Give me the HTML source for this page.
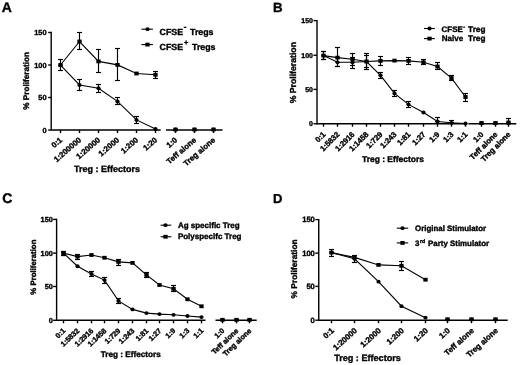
<!DOCTYPE html>
<html><head><meta charset="utf-8"><style>
html,body{margin:0;padding:0;background:#fff;}
svg{display:block;will-change:transform;}
text{font-family:"Liberation Sans", sans-serif;fill:#000;stroke:#000;stroke-width:0.36px;text-rendering:geometricPrecision;}
</style></head><body>
<svg width="520" height="365" viewBox="0 0 520 365">
<rect width="520" height="365" fill="#fff"/>
<line x1="51.20" y1="31.80" x2="51.20" y2="130.70" stroke="#000" stroke-width="1.4"/>
<line x1="48.20" y1="32.50" x2="51.20" y2="32.50" stroke="#000" stroke-width="1.4"/>
<text x="46.50" y="35.16" font-size="7.4" text-anchor="end" font-weight="bold">150</text>
<line x1="48.20" y1="65.00" x2="51.20" y2="65.00" stroke="#000" stroke-width="1.4"/>
<text x="46.50" y="67.66" font-size="7.4" text-anchor="end" font-weight="bold">100</text>
<line x1="48.20" y1="97.50" x2="51.20" y2="97.50" stroke="#000" stroke-width="1.4"/>
<text x="46.50" y="100.16" font-size="7.4" text-anchor="end" font-weight="bold">50</text>
<line x1="48.20" y1="130.00" x2="51.20" y2="130.00" stroke="#000" stroke-width="1.4"/>
<text x="46.50" y="132.66" font-size="7.4" text-anchor="end" font-weight="bold">0</text>
<line x1="51.20" y1="130.00" x2="160.70" y2="130.00" stroke="#000" stroke-width="1.4"/>
<line x1="60.50" y1="130.00" x2="60.50" y2="133.00" stroke="#000" stroke-width="1.4"/>
<text x="62.70" y="140.80" font-size="7.8" text-anchor="end" font-weight="bold" transform="rotate(-41 62.7 140.8)">0:1</text>
<line x1="79.50" y1="130.00" x2="79.50" y2="133.00" stroke="#000" stroke-width="1.4"/>
<text x="81.70" y="140.80" font-size="7.8" text-anchor="end" font-weight="bold" transform="rotate(-41 81.7 140.8)">1:200000</text>
<line x1="98.50" y1="130.00" x2="98.50" y2="133.00" stroke="#000" stroke-width="1.4"/>
<text x="100.70" y="140.80" font-size="7.8" text-anchor="end" font-weight="bold" transform="rotate(-41 100.7 140.8)">1:20000</text>
<line x1="117.50" y1="130.00" x2="117.50" y2="133.00" stroke="#000" stroke-width="1.4"/>
<text x="119.70" y="140.80" font-size="7.8" text-anchor="end" font-weight="bold" transform="rotate(-41 119.7 140.8)">1:2000</text>
<line x1="136.50" y1="130.00" x2="136.50" y2="133.00" stroke="#000" stroke-width="1.4"/>
<text x="138.70" y="140.80" font-size="7.8" text-anchor="end" font-weight="bold" transform="rotate(-41 138.7 140.8)">1:200</text>
<line x1="155.50" y1="130.00" x2="155.50" y2="133.00" stroke="#000" stroke-width="1.4"/>
<text x="157.70" y="140.80" font-size="7.8" text-anchor="end" font-weight="bold" transform="rotate(-41 157.7 140.8)">1:20</text>
<line x1="166.00" y1="130.00" x2="222.50" y2="130.00" stroke="#000" stroke-width="1.4"/>
<line x1="175.50" y1="130.00" x2="175.50" y2="133.00" stroke="#000" stroke-width="1.4"/>
<text x="177.70" y="140.80" font-size="7.8" text-anchor="end" font-weight="bold" transform="rotate(-41 177.7 140.8)">1:0</text>
<line x1="194.50" y1="130.00" x2="194.50" y2="133.00" stroke="#000" stroke-width="1.4"/>
<text x="196.70" y="140.80" font-size="7.8" text-anchor="end" font-weight="bold" transform="rotate(-41 196.7 140.8)">Teff alone</text>
<line x1="213.50" y1="130.00" x2="213.50" y2="133.00" stroke="#000" stroke-width="1.4"/>
<text x="215.70" y="140.80" font-size="7.8" text-anchor="end" font-weight="bold" transform="rotate(-41 215.7 140.8)">Treg alone</text>
<text x="29.00" y="80.90" font-size="8.2" text-anchor="middle" font-weight="bold" transform="rotate(-90 29.0 80.9)">% Proliferation</text>
<text x="106.90" y="172.00" font-size="9.0" text-anchor="middle" font-weight="bold">Treg : Effectors</text>
<text x="1.80" y="12.00" font-size="14" text-anchor="start" font-weight="bold">A</text>
<polyline points="60.50,65.20 79.50,85.00 98.50,88.20 117.50,101.40 136.50,119.90 155.50,129.00" fill="none" stroke="#000" stroke-width="1.1"/>
<line x1="60.50" y1="59.50" x2="60.50" y2="70.50" stroke="#000" stroke-width="1.15"/>
<line x1="58.00" y1="59.50" x2="63.00" y2="59.50" stroke="#000" stroke-width="1.15"/>
<line x1="58.00" y1="70.50" x2="63.00" y2="70.50" stroke="#000" stroke-width="1.15"/>
<line x1="79.50" y1="79.50" x2="79.50" y2="90.50" stroke="#000" stroke-width="1.15"/>
<line x1="77.00" y1="79.50" x2="82.00" y2="79.50" stroke="#000" stroke-width="1.15"/>
<line x1="77.00" y1="90.50" x2="82.00" y2="90.50" stroke="#000" stroke-width="1.15"/>
<line x1="98.50" y1="84.50" x2="98.50" y2="92.50" stroke="#000" stroke-width="1.15"/>
<line x1="96.00" y1="84.50" x2="101.00" y2="84.50" stroke="#000" stroke-width="1.15"/>
<line x1="96.00" y1="92.50" x2="101.00" y2="92.50" stroke="#000" stroke-width="1.15"/>
<line x1="117.50" y1="97.50" x2="117.50" y2="104.50" stroke="#000" stroke-width="1.15"/>
<line x1="115.00" y1="97.50" x2="120.00" y2="97.50" stroke="#000" stroke-width="1.15"/>
<line x1="115.00" y1="104.50" x2="120.00" y2="104.50" stroke="#000" stroke-width="1.15"/>
<line x1="136.50" y1="116.50" x2="136.50" y2="123.50" stroke="#000" stroke-width="1.15"/>
<line x1="134.00" y1="116.50" x2="139.00" y2="116.50" stroke="#000" stroke-width="1.15"/>
<line x1="134.00" y1="123.50" x2="139.00" y2="123.50" stroke="#000" stroke-width="1.15"/>
<ellipse cx="60.50" cy="65.20" rx="2.10" ry="1.90" fill="#000"/>
<ellipse cx="79.50" cy="85.00" rx="2.10" ry="1.90" fill="#000"/>
<ellipse cx="98.50" cy="88.20" rx="2.10" ry="1.90" fill="#000"/>
<ellipse cx="117.50" cy="101.40" rx="2.10" ry="1.90" fill="#000"/>
<ellipse cx="136.50" cy="119.90" rx="2.10" ry="1.90" fill="#000"/>
<ellipse cx="155.50" cy="129.00" rx="2.10" ry="1.90" fill="#000"/>
<ellipse cx="175.50" cy="129.50" rx="2.10" ry="1.90" fill="#000"/>
<ellipse cx="194.50" cy="129.50" rx="2.10" ry="1.90" fill="#000"/>
<ellipse cx="213.50" cy="129.50" rx="2.10" ry="1.90" fill="#000"/>
<polyline points="60.50,65.00 79.50,41.50 98.50,61.40 117.50,64.90 136.50,73.50 155.50,74.80" fill="none" stroke="#000" stroke-width="1.1"/>
<line x1="79.50" y1="32.50" x2="79.50" y2="49.50" stroke="#000" stroke-width="1.15"/>
<line x1="77.00" y1="32.50" x2="82.00" y2="32.50" stroke="#000" stroke-width="1.15"/>
<line x1="77.00" y1="49.50" x2="82.00" y2="49.50" stroke="#000" stroke-width="1.15"/>
<line x1="98.50" y1="49.50" x2="98.50" y2="72.50" stroke="#000" stroke-width="1.15"/>
<line x1="96.00" y1="49.50" x2="101.00" y2="49.50" stroke="#000" stroke-width="1.15"/>
<line x1="96.00" y1="72.50" x2="101.00" y2="72.50" stroke="#000" stroke-width="1.15"/>
<line x1="117.50" y1="48.50" x2="117.50" y2="80.50" stroke="#000" stroke-width="1.15"/>
<line x1="115.00" y1="48.50" x2="120.00" y2="48.50" stroke="#000" stroke-width="1.15"/>
<line x1="115.00" y1="80.50" x2="120.00" y2="80.50" stroke="#000" stroke-width="1.15"/>
<line x1="155.50" y1="71.50" x2="155.50" y2="78.50" stroke="#000" stroke-width="1.15"/>
<line x1="153.00" y1="71.50" x2="158.00" y2="71.50" stroke="#000" stroke-width="1.15"/>
<line x1="153.00" y1="78.50" x2="158.00" y2="78.50" stroke="#000" stroke-width="1.15"/>
<rect x="58.34" y="63.10" width="4.32" height="3.80" fill="#000"/>
<rect x="77.34" y="39.60" width="4.32" height="3.80" fill="#000"/>
<rect x="96.34" y="59.50" width="4.32" height="3.80" fill="#000"/>
<rect x="115.34" y="63.00" width="4.32" height="3.80" fill="#000"/>
<rect x="134.34" y="71.60" width="4.32" height="3.80" fill="#000"/>
<rect x="153.34" y="72.90" width="4.32" height="3.80" fill="#000"/>
<rect x="173.34" y="127.60" width="4.32" height="3.80" fill="#000"/>
<rect x="192.34" y="127.60" width="4.32" height="3.80" fill="#000"/>
<rect x="211.34" y="127.60" width="4.32" height="3.80" fill="#000"/>
<line x1="141.40" y1="29.20" x2="152.90" y2="29.20" stroke="#000" stroke-width="1.1"/>
<ellipse cx="147.50" cy="29.20" rx="2.10" ry="1.90" fill="#000"/>
<text x="159.6" y="35.0" font-size="8.8" font-weight="bold">CFSE</text>
<text x="190.0" y="35.0" font-size="8.8" font-weight="bold">Tregs</text>
<line x1="141.40" y1="44.60" x2="152.90" y2="44.60" stroke="#000" stroke-width="1.1"/>
<rect x="145.34" y="42.70" width="4.32" height="3.80" fill="#000"/>
<text x="159.6" y="50.2" font-size="8.8" font-weight="bold">CFSE</text>
<text x="183.9" y="44.5" font-size="7.5" font-weight="bold">+</text>
<text x="192.0" y="50.2" font-size="8.8" font-weight="bold">Tregs</text>
<line x1="317.00" y1="19.90" x2="317.00" y2="124.45" stroke="#000" stroke-width="1.4"/>
<line x1="313.50" y1="20.60" x2="317.00" y2="20.60" stroke="#000" stroke-width="1.4"/>
<text x="313.00" y="23.12" font-size="7.0" text-anchor="end" font-weight="bold">150</text>
<line x1="313.50" y1="55.25" x2="317.00" y2="55.25" stroke="#000" stroke-width="1.4"/>
<text x="313.00" y="57.77" font-size="7.0" text-anchor="end" font-weight="bold">100</text>
<line x1="313.50" y1="89.40" x2="317.00" y2="89.40" stroke="#000" stroke-width="1.4"/>
<text x="313.00" y="91.92" font-size="7.0" text-anchor="end" font-weight="bold">50</text>
<line x1="313.50" y1="123.75" x2="317.00" y2="123.75" stroke="#000" stroke-width="1.4"/>
<text x="313.00" y="126.27" font-size="7.0" text-anchor="end" font-weight="bold">0</text>
<line x1="317.00" y1="123.75" x2="467.20" y2="123.75" stroke="#000" stroke-width="1.4"/>
<line x1="323.50" y1="123.75" x2="323.50" y2="126.75" stroke="#000" stroke-width="1.4"/>
<text x="326.10" y="134.95" font-size="7.7" text-anchor="end" font-weight="bold" transform="rotate(-45 326.1 134.95)">0:1</text>
<line x1="337.50" y1="123.75" x2="337.50" y2="126.75" stroke="#000" stroke-width="1.4"/>
<text x="340.10" y="134.95" font-size="7.7" text-anchor="end" font-weight="bold" transform="rotate(-45 340.1 134.95)">1:5832</text>
<line x1="352.50" y1="123.75" x2="352.50" y2="126.75" stroke="#000" stroke-width="1.4"/>
<text x="355.10" y="134.95" font-size="7.7" text-anchor="end" font-weight="bold" transform="rotate(-45 355.1 134.95)">1:2916</text>
<line x1="366.50" y1="123.75" x2="366.50" y2="126.75" stroke="#000" stroke-width="1.4"/>
<text x="369.10" y="134.95" font-size="7.7" text-anchor="end" font-weight="bold" transform="rotate(-45 369.1 134.95)">1:1458</text>
<line x1="380.50" y1="123.75" x2="380.50" y2="126.75" stroke="#000" stroke-width="1.4"/>
<text x="383.10" y="134.95" font-size="7.7" text-anchor="end" font-weight="bold" transform="rotate(-45 383.1 134.95)">1:729</text>
<line x1="394.50" y1="123.75" x2="394.50" y2="126.75" stroke="#000" stroke-width="1.4"/>
<text x="397.10" y="134.95" font-size="7.7" text-anchor="end" font-weight="bold" transform="rotate(-45 397.1 134.95)">1:243</text>
<line x1="408.50" y1="123.75" x2="408.50" y2="126.75" stroke="#000" stroke-width="1.4"/>
<text x="411.10" y="134.95" font-size="7.7" text-anchor="end" font-weight="bold" transform="rotate(-45 411.1 134.95)">1:81</text>
<line x1="423.50" y1="123.75" x2="423.50" y2="126.75" stroke="#000" stroke-width="1.4"/>
<text x="426.10" y="134.95" font-size="7.7" text-anchor="end" font-weight="bold" transform="rotate(-45 426.1 134.95)">1:27</text>
<line x1="437.50" y1="123.75" x2="437.50" y2="126.75" stroke="#000" stroke-width="1.4"/>
<text x="440.10" y="134.95" font-size="7.7" text-anchor="end" font-weight="bold" transform="rotate(-45 440.1 134.95)">1:9</text>
<line x1="451.50" y1="123.75" x2="451.50" y2="126.75" stroke="#000" stroke-width="1.4"/>
<text x="454.10" y="134.95" font-size="7.7" text-anchor="end" font-weight="bold" transform="rotate(-45 454.1 134.95)">1:3</text>
<line x1="465.50" y1="123.75" x2="465.50" y2="126.75" stroke="#000" stroke-width="1.4"/>
<text x="468.10" y="134.95" font-size="7.7" text-anchor="end" font-weight="bold" transform="rotate(-45 468.1 134.95)">1:1</text>
<line x1="468.40" y1="123.75" x2="516.30" y2="123.75" stroke="#000" stroke-width="1.4"/>
<line x1="481.50" y1="123.75" x2="481.50" y2="126.75" stroke="#000" stroke-width="1.4"/>
<text x="484.10" y="134.95" font-size="7.7" text-anchor="end" font-weight="bold" transform="rotate(-45 484.1 134.95)">1:0</text>
<line x1="495.50" y1="123.75" x2="495.50" y2="126.75" stroke="#000" stroke-width="1.4"/>
<text x="498.10" y="134.95" font-size="7.7" text-anchor="end" font-weight="bold" transform="rotate(-45 498.1 134.95)">Teff alone</text>
<line x1="508.50" y1="123.75" x2="508.50" y2="126.75" stroke="#000" stroke-width="1.4"/>
<text x="511.10" y="134.95" font-size="7.7" text-anchor="end" font-weight="bold" transform="rotate(-45 511.1 134.95)">Treg alone</text>
<text x="296.20" y="72.70" font-size="8.7" text-anchor="middle" font-weight="bold" transform="rotate(-90 296.2 72.7)">% Proliferation</text>
<text x="393.00" y="161.60" font-size="8.45" text-anchor="middle" font-weight="bold">Treg : Effectors</text>
<text x="273.00" y="11.60" font-size="13.3" text-anchor="start" font-weight="bold">B</text>
<polyline points="323.50,55.60 337.50,62.30 352.50,62.30 366.50,61.50 380.50,75.30 394.50,93.40 408.50,104.40 423.50,112.50 437.50,121.50 451.50,122.80 465.50,123.50" fill="none" stroke="#000" stroke-width="1.1"/>
<line x1="323.50" y1="51.50" x2="323.50" y2="59.50" stroke="#000" stroke-width="1.15"/>
<line x1="321.00" y1="51.50" x2="326.00" y2="51.50" stroke="#000" stroke-width="1.15"/>
<line x1="321.00" y1="59.50" x2="326.00" y2="59.50" stroke="#000" stroke-width="1.15"/>
<line x1="337.50" y1="57.50" x2="337.50" y2="66.50" stroke="#000" stroke-width="1.15"/>
<line x1="335.00" y1="57.50" x2="340.00" y2="57.50" stroke="#000" stroke-width="1.15"/>
<line x1="335.00" y1="66.50" x2="340.00" y2="66.50" stroke="#000" stroke-width="1.15"/>
<line x1="352.50" y1="57.50" x2="352.50" y2="68.50" stroke="#000" stroke-width="1.15"/>
<line x1="350.00" y1="57.50" x2="355.00" y2="57.50" stroke="#000" stroke-width="1.15"/>
<line x1="350.00" y1="68.50" x2="355.00" y2="68.50" stroke="#000" stroke-width="1.15"/>
<line x1="366.50" y1="55.50" x2="366.50" y2="69.50" stroke="#000" stroke-width="1.15"/>
<line x1="364.00" y1="55.50" x2="369.00" y2="55.50" stroke="#000" stroke-width="1.15"/>
<line x1="364.00" y1="69.50" x2="369.00" y2="69.50" stroke="#000" stroke-width="1.15"/>
<line x1="380.50" y1="72.50" x2="380.50" y2="78.50" stroke="#000" stroke-width="1.15"/>
<line x1="378.00" y1="72.50" x2="383.00" y2="72.50" stroke="#000" stroke-width="1.15"/>
<line x1="378.00" y1="78.50" x2="383.00" y2="78.50" stroke="#000" stroke-width="1.15"/>
<line x1="394.50" y1="90.50" x2="394.50" y2="96.50" stroke="#000" stroke-width="1.15"/>
<line x1="392.00" y1="90.50" x2="397.00" y2="90.50" stroke="#000" stroke-width="1.15"/>
<line x1="392.00" y1="96.50" x2="397.00" y2="96.50" stroke="#000" stroke-width="1.15"/>
<line x1="408.50" y1="101.50" x2="408.50" y2="107.50" stroke="#000" stroke-width="1.15"/>
<line x1="406.00" y1="101.50" x2="411.00" y2="101.50" stroke="#000" stroke-width="1.15"/>
<line x1="406.00" y1="107.50" x2="411.00" y2="107.50" stroke="#000" stroke-width="1.15"/>
<line x1="437.50" y1="117.50" x2="437.50" y2="121.50" stroke="#000" stroke-width="1.15"/>
<line x1="435.00" y1="117.50" x2="440.00" y2="117.50" stroke="#000" stroke-width="1.15"/>
<line x1="435.00" y1="121.50" x2="440.00" y2="121.50" stroke="#000" stroke-width="1.15"/>
<line x1="451.50" y1="120.50" x2="451.50" y2="122.50" stroke="#000" stroke-width="1.15"/>
<line x1="449.00" y1="120.50" x2="454.00" y2="120.50" stroke="#000" stroke-width="1.15"/>
<line x1="449.00" y1="122.50" x2="454.00" y2="122.50" stroke="#000" stroke-width="1.15"/>
<ellipse cx="323.50" cy="55.60" rx="2.10" ry="1.90" fill="#000"/>
<ellipse cx="337.50" cy="62.30" rx="2.10" ry="1.90" fill="#000"/>
<ellipse cx="352.50" cy="62.30" rx="2.10" ry="1.90" fill="#000"/>
<ellipse cx="366.50" cy="61.50" rx="2.10" ry="1.90" fill="#000"/>
<ellipse cx="380.50" cy="75.30" rx="2.10" ry="1.90" fill="#000"/>
<ellipse cx="394.50" cy="93.40" rx="2.10" ry="1.90" fill="#000"/>
<ellipse cx="408.50" cy="104.40" rx="2.10" ry="1.90" fill="#000"/>
<ellipse cx="423.50" cy="112.50" rx="2.10" ry="1.90" fill="#000"/>
<ellipse cx="437.50" cy="121.50" rx="2.10" ry="1.90" fill="#000"/>
<ellipse cx="451.50" cy="122.80" rx="2.10" ry="1.90" fill="#000"/>
<ellipse cx="465.50" cy="123.50" rx="2.10" ry="1.90" fill="#000"/>
<ellipse cx="481.50" cy="123.00" rx="2.10" ry="1.90" fill="#000"/>
<ellipse cx="495.50" cy="123.00" rx="2.10" ry="1.90" fill="#000"/>
<ellipse cx="508.50" cy="123.00" rx="2.10" ry="1.90" fill="#000"/>
<polyline points="323.50,55.60 337.50,57.60 352.50,59.30 366.50,61.50 380.50,60.90 394.50,60.60 408.50,60.90 423.50,62.30 437.50,66.50 451.50,78.10 465.50,97.00" fill="none" stroke="#000" stroke-width="1.1"/>
<line x1="323.50" y1="51.50" x2="323.50" y2="59.50" stroke="#000" stroke-width="1.15"/>
<line x1="321.00" y1="51.50" x2="326.00" y2="51.50" stroke="#000" stroke-width="1.15"/>
<line x1="321.00" y1="59.50" x2="326.00" y2="59.50" stroke="#000" stroke-width="1.15"/>
<line x1="337.50" y1="47.50" x2="337.50" y2="66.50" stroke="#000" stroke-width="1.15"/>
<line x1="335.00" y1="47.50" x2="340.00" y2="47.50" stroke="#000" stroke-width="1.15"/>
<line x1="335.00" y1="66.50" x2="340.00" y2="66.50" stroke="#000" stroke-width="1.15"/>
<line x1="352.50" y1="53.50" x2="352.50" y2="65.50" stroke="#000" stroke-width="1.15"/>
<line x1="350.00" y1="53.50" x2="355.00" y2="53.50" stroke="#000" stroke-width="1.15"/>
<line x1="350.00" y1="65.50" x2="355.00" y2="65.50" stroke="#000" stroke-width="1.15"/>
<line x1="366.50" y1="53.50" x2="366.50" y2="67.50" stroke="#000" stroke-width="1.15"/>
<line x1="364.00" y1="53.50" x2="369.00" y2="53.50" stroke="#000" stroke-width="1.15"/>
<line x1="364.00" y1="67.50" x2="369.00" y2="67.50" stroke="#000" stroke-width="1.15"/>
<line x1="380.50" y1="56.50" x2="380.50" y2="65.50" stroke="#000" stroke-width="1.15"/>
<line x1="378.00" y1="56.50" x2="383.00" y2="56.50" stroke="#000" stroke-width="1.15"/>
<line x1="378.00" y1="65.50" x2="383.00" y2="65.50" stroke="#000" stroke-width="1.15"/>
<line x1="408.50" y1="57.50" x2="408.50" y2="64.50" stroke="#000" stroke-width="1.15"/>
<line x1="406.00" y1="57.50" x2="411.00" y2="57.50" stroke="#000" stroke-width="1.15"/>
<line x1="406.00" y1="64.50" x2="411.00" y2="64.50" stroke="#000" stroke-width="1.15"/>
<line x1="423.50" y1="59.50" x2="423.50" y2="64.50" stroke="#000" stroke-width="1.15"/>
<line x1="421.00" y1="59.50" x2="426.00" y2="59.50" stroke="#000" stroke-width="1.15"/>
<line x1="421.00" y1="64.50" x2="426.00" y2="64.50" stroke="#000" stroke-width="1.15"/>
<line x1="437.50" y1="62.50" x2="437.50" y2="69.50" stroke="#000" stroke-width="1.15"/>
<line x1="435.00" y1="62.50" x2="440.00" y2="62.50" stroke="#000" stroke-width="1.15"/>
<line x1="435.00" y1="69.50" x2="440.00" y2="69.50" stroke="#000" stroke-width="1.15"/>
<line x1="451.50" y1="75.50" x2="451.50" y2="80.50" stroke="#000" stroke-width="1.15"/>
<line x1="449.00" y1="75.50" x2="454.00" y2="75.50" stroke="#000" stroke-width="1.15"/>
<line x1="449.00" y1="80.50" x2="454.00" y2="80.50" stroke="#000" stroke-width="1.15"/>
<line x1="465.50" y1="93.50" x2="465.50" y2="101.50" stroke="#000" stroke-width="1.15"/>
<line x1="463.00" y1="93.50" x2="468.00" y2="93.50" stroke="#000" stroke-width="1.15"/>
<line x1="463.00" y1="101.50" x2="468.00" y2="101.50" stroke="#000" stroke-width="1.15"/>
<rect x="321.34" y="53.70" width="4.32" height="3.80" fill="#000"/>
<rect x="335.34" y="55.70" width="4.32" height="3.80" fill="#000"/>
<rect x="350.34" y="57.40" width="4.32" height="3.80" fill="#000"/>
<rect x="364.34" y="59.60" width="4.32" height="3.80" fill="#000"/>
<rect x="378.34" y="59.00" width="4.32" height="3.80" fill="#000"/>
<rect x="392.34" y="58.70" width="4.32" height="3.80" fill="#000"/>
<rect x="406.34" y="59.00" width="4.32" height="3.80" fill="#000"/>
<rect x="421.34" y="60.40" width="4.32" height="3.80" fill="#000"/>
<rect x="435.34" y="64.60" width="4.32" height="3.80" fill="#000"/>
<rect x="449.34" y="76.20" width="4.32" height="3.80" fill="#000"/>
<rect x="463.34" y="95.10" width="4.32" height="3.80" fill="#000"/>
<rect x="479.34" y="121.10" width="4.32" height="3.80" fill="#000"/>
<rect x="493.34" y="121.10" width="4.32" height="3.80" fill="#000"/>
<rect x="506.34" y="120.60" width="4.32" height="3.80" fill="#000"/>
<line x1="424.00" y1="28.50" x2="434.90" y2="28.50" stroke="#000" stroke-width="1.1"/>
<ellipse cx="429.50" cy="28.50" rx="2.10" ry="1.90" fill="#000"/>
<text x="441.6" y="32.4" font-size="8.0" font-weight="bold">CFSE</text>
<text x="468.1" y="32.4" font-size="8.2" font-weight="bold">Treg</text>
<line x1="424.00" y1="38.60" x2="434.90" y2="38.60" stroke="#000" stroke-width="1.1"/>
<rect x="427.34" y="36.70" width="4.32" height="3.80" fill="#000"/>
<text x="441.8" y="41.1" font-size="8.0" font-weight="bold">Naive</text>
<text x="468.1" y="41.1" font-size="8.2" font-weight="bold">Treg</text>
<line x1="508.50" y1="118.50" x2="508.50" y2="123.50" stroke="#000" stroke-width="1.15"/>
<line x1="506.00" y1="118.50" x2="511.00" y2="118.50" stroke="#000" stroke-width="1.15"/>
<line x1="506.00" y1="123.50" x2="511.00" y2="123.50" stroke="#000" stroke-width="1.15"/>
<line x1="56.60" y1="218.70" x2="56.60" y2="321.00" stroke="#000" stroke-width="1.4"/>
<line x1="53.10" y1="219.40" x2="56.60" y2="219.40" stroke="#000" stroke-width="1.4"/>
<text x="52.80" y="222.03" font-size="7.3" text-anchor="end" font-weight="bold">150</text>
<line x1="53.10" y1="253.10" x2="56.60" y2="253.10" stroke="#000" stroke-width="1.4"/>
<text x="52.80" y="255.73" font-size="7.3" text-anchor="end" font-weight="bold">100</text>
<line x1="53.10" y1="286.50" x2="56.60" y2="286.50" stroke="#000" stroke-width="1.4"/>
<text x="52.80" y="289.13" font-size="7.3" text-anchor="end" font-weight="bold">50</text>
<line x1="53.10" y1="320.30" x2="56.60" y2="320.30" stroke="#000" stroke-width="1.4"/>
<text x="52.80" y="322.93" font-size="7.3" text-anchor="end" font-weight="bold">0</text>
<line x1="56.60" y1="320.30" x2="205.50" y2="320.30" stroke="#000" stroke-width="1.4"/>
<line x1="63.50" y1="320.30" x2="63.50" y2="323.30" stroke="#000" stroke-width="1.4"/>
<text x="65.90" y="331.30" font-size="7.3" text-anchor="end" font-weight="bold" transform="rotate(-44 65.9 331.3)">0:1</text>
<line x1="77.50" y1="320.30" x2="77.50" y2="323.30" stroke="#000" stroke-width="1.4"/>
<text x="79.90" y="331.30" font-size="7.3" text-anchor="end" font-weight="bold" transform="rotate(-44 79.9 331.3)">1:5832</text>
<line x1="91.50" y1="320.30" x2="91.50" y2="323.30" stroke="#000" stroke-width="1.4"/>
<text x="93.90" y="331.30" font-size="7.3" text-anchor="end" font-weight="bold" transform="rotate(-44 93.9 331.3)">1:2916</text>
<line x1="104.50" y1="320.30" x2="104.50" y2="323.30" stroke="#000" stroke-width="1.4"/>
<text x="106.90" y="331.30" font-size="7.3" text-anchor="end" font-weight="bold" transform="rotate(-44 106.9 331.3)">1:1458</text>
<line x1="118.50" y1="320.30" x2="118.50" y2="323.30" stroke="#000" stroke-width="1.4"/>
<text x="120.90" y="331.30" font-size="7.3" text-anchor="end" font-weight="bold" transform="rotate(-44 120.9 331.3)">1:729</text>
<line x1="132.50" y1="320.30" x2="132.50" y2="323.30" stroke="#000" stroke-width="1.4"/>
<text x="134.90" y="331.30" font-size="7.3" text-anchor="end" font-weight="bold" transform="rotate(-44 134.9 331.3)">1:243</text>
<line x1="146.50" y1="320.30" x2="146.50" y2="323.30" stroke="#000" stroke-width="1.4"/>
<text x="148.90" y="331.30" font-size="7.3" text-anchor="end" font-weight="bold" transform="rotate(-44 148.9 331.3)">1:81</text>
<line x1="159.50" y1="320.30" x2="159.50" y2="323.30" stroke="#000" stroke-width="1.4"/>
<text x="161.90" y="331.30" font-size="7.3" text-anchor="end" font-weight="bold" transform="rotate(-44 161.9 331.3)">1:27</text>
<line x1="173.50" y1="320.30" x2="173.50" y2="323.30" stroke="#000" stroke-width="1.4"/>
<text x="175.90" y="331.30" font-size="7.3" text-anchor="end" font-weight="bold" transform="rotate(-44 175.9 331.3)">1:9</text>
<line x1="187.50" y1="320.30" x2="187.50" y2="323.30" stroke="#000" stroke-width="1.4"/>
<text x="189.90" y="331.30" font-size="7.3" text-anchor="end" font-weight="bold" transform="rotate(-44 189.9 331.3)">1:3</text>
<line x1="201.50" y1="320.30" x2="201.50" y2="323.30" stroke="#000" stroke-width="1.4"/>
<text x="203.90" y="331.30" font-size="7.3" text-anchor="end" font-weight="bold" transform="rotate(-44 203.9 331.3)">1:1</text>
<line x1="215.50" y1="320.30" x2="256.70" y2="320.30" stroke="#000" stroke-width="1.4"/>
<line x1="222.50" y1="320.30" x2="222.50" y2="323.30" stroke="#000" stroke-width="1.4"/>
<text x="224.90" y="331.30" font-size="7.3" text-anchor="end" font-weight="bold" transform="rotate(-44 224.9 331.3)">1:0</text>
<line x1="236.50" y1="320.30" x2="236.50" y2="323.30" stroke="#000" stroke-width="1.4"/>
<text x="238.90" y="331.30" font-size="7.3" text-anchor="end" font-weight="bold" transform="rotate(-44 238.9 331.3)">Teff alone</text>
<line x1="249.50" y1="320.30" x2="249.50" y2="323.30" stroke="#000" stroke-width="1.4"/>
<text x="251.90" y="331.30" font-size="7.3" text-anchor="end" font-weight="bold" transform="rotate(-44 251.9 331.3)">Treg alone</text>
<text x="36.20" y="267.10" font-size="7.8" text-anchor="middle" font-weight="bold" transform="rotate(-90 36.2 267.1)">% Proliferation</text>
<text x="130.80" y="357.20" font-size="8.2" text-anchor="middle" font-weight="bold">Treg : Effectors</text>
<text x="2.20" y="202.80" font-size="14" text-anchor="start" font-weight="bold">C</text>
<polyline points="63.50,253.10 77.50,266.25 91.50,274.00 104.50,280.10 118.50,300.90 132.50,309.40 146.50,313.10 159.50,314.10 173.50,314.80 187.50,316.00 201.50,317.10" fill="none" stroke="#000" stroke-width="1.1"/>
<line x1="63.50" y1="251.50" x2="63.50" y2="255.50" stroke="#000" stroke-width="1.15"/>
<line x1="61.00" y1="251.50" x2="66.00" y2="251.50" stroke="#000" stroke-width="1.15"/>
<line x1="61.00" y1="255.50" x2="66.00" y2="255.50" stroke="#000" stroke-width="1.15"/>
<line x1="91.50" y1="271.50" x2="91.50" y2="276.50" stroke="#000" stroke-width="1.15"/>
<line x1="89.00" y1="271.50" x2="94.00" y2="271.50" stroke="#000" stroke-width="1.15"/>
<line x1="89.00" y1="276.50" x2="94.00" y2="276.50" stroke="#000" stroke-width="1.15"/>
<line x1="104.50" y1="277.50" x2="104.50" y2="283.50" stroke="#000" stroke-width="1.15"/>
<line x1="102.00" y1="277.50" x2="107.00" y2="277.50" stroke="#000" stroke-width="1.15"/>
<line x1="102.00" y1="283.50" x2="107.00" y2="283.50" stroke="#000" stroke-width="1.15"/>
<line x1="118.50" y1="298.50" x2="118.50" y2="303.50" stroke="#000" stroke-width="1.15"/>
<line x1="116.00" y1="298.50" x2="121.00" y2="298.50" stroke="#000" stroke-width="1.15"/>
<line x1="116.00" y1="303.50" x2="121.00" y2="303.50" stroke="#000" stroke-width="1.15"/>
<ellipse cx="63.50" cy="253.10" rx="2.10" ry="1.90" fill="#000"/>
<ellipse cx="77.50" cy="266.25" rx="2.10" ry="1.90" fill="#000"/>
<ellipse cx="91.50" cy="274.00" rx="2.10" ry="1.90" fill="#000"/>
<ellipse cx="104.50" cy="280.10" rx="2.10" ry="1.90" fill="#000"/>
<ellipse cx="118.50" cy="300.90" rx="2.10" ry="1.90" fill="#000"/>
<ellipse cx="132.50" cy="309.40" rx="2.10" ry="1.90" fill="#000"/>
<ellipse cx="146.50" cy="313.10" rx="2.10" ry="1.90" fill="#000"/>
<ellipse cx="159.50" cy="314.10" rx="2.10" ry="1.90" fill="#000"/>
<ellipse cx="173.50" cy="314.80" rx="2.10" ry="1.90" fill="#000"/>
<ellipse cx="187.50" cy="316.00" rx="2.10" ry="1.90" fill="#000"/>
<ellipse cx="201.50" cy="317.10" rx="2.10" ry="1.90" fill="#000"/>
<ellipse cx="222.50" cy="319.80" rx="2.10" ry="1.90" fill="#000"/>
<ellipse cx="236.50" cy="319.80" rx="2.10" ry="1.90" fill="#000"/>
<ellipse cx="249.50" cy="319.80" rx="2.10" ry="1.90" fill="#000"/>
<polyline points="63.50,253.10 77.50,256.60 91.50,255.00 104.50,257.75 118.50,261.90 132.50,262.90 146.50,274.90 159.50,285.00 173.50,288.80 187.50,299.30 201.50,306.30" fill="none" stroke="#000" stroke-width="1.1"/>
<line x1="63.50" y1="251.50" x2="63.50" y2="255.50" stroke="#000" stroke-width="1.15"/>
<line x1="61.00" y1="251.50" x2="66.00" y2="251.50" stroke="#000" stroke-width="1.15"/>
<line x1="61.00" y1="255.50" x2="66.00" y2="255.50" stroke="#000" stroke-width="1.15"/>
<line x1="77.50" y1="254.50" x2="77.50" y2="259.50" stroke="#000" stroke-width="1.15"/>
<line x1="75.00" y1="254.50" x2="80.00" y2="254.50" stroke="#000" stroke-width="1.15"/>
<line x1="75.00" y1="259.50" x2="80.00" y2="259.50" stroke="#000" stroke-width="1.15"/>
<line x1="118.50" y1="259.50" x2="118.50" y2="265.50" stroke="#000" stroke-width="1.15"/>
<line x1="116.00" y1="259.50" x2="121.00" y2="259.50" stroke="#000" stroke-width="1.15"/>
<line x1="116.00" y1="265.50" x2="121.00" y2="265.50" stroke="#000" stroke-width="1.15"/>
<line x1="146.50" y1="272.50" x2="146.50" y2="277.50" stroke="#000" stroke-width="1.15"/>
<line x1="144.00" y1="272.50" x2="149.00" y2="272.50" stroke="#000" stroke-width="1.15"/>
<line x1="144.00" y1="277.50" x2="149.00" y2="277.50" stroke="#000" stroke-width="1.15"/>
<line x1="173.50" y1="285.50" x2="173.50" y2="291.50" stroke="#000" stroke-width="1.15"/>
<line x1="171.00" y1="285.50" x2="176.00" y2="285.50" stroke="#000" stroke-width="1.15"/>
<line x1="171.00" y1="291.50" x2="176.00" y2="291.50" stroke="#000" stroke-width="1.15"/>
<rect x="61.34" y="251.20" width="4.32" height="3.80" fill="#000"/>
<rect x="75.34" y="254.70" width="4.32" height="3.80" fill="#000"/>
<rect x="89.34" y="253.10" width="4.32" height="3.80" fill="#000"/>
<rect x="102.34" y="255.85" width="4.32" height="3.80" fill="#000"/>
<rect x="116.34" y="260.00" width="4.32" height="3.80" fill="#000"/>
<rect x="130.34" y="261.00" width="4.32" height="3.80" fill="#000"/>
<rect x="144.34" y="273.00" width="4.32" height="3.80" fill="#000"/>
<rect x="157.34" y="283.10" width="4.32" height="3.80" fill="#000"/>
<rect x="171.34" y="286.90" width="4.32" height="3.80" fill="#000"/>
<rect x="185.34" y="297.40" width="4.32" height="3.80" fill="#000"/>
<rect x="199.34" y="304.40" width="4.32" height="3.80" fill="#000"/>
<rect x="220.34" y="317.90" width="4.32" height="3.80" fill="#000"/>
<rect x="234.34" y="317.90" width="4.32" height="3.80" fill="#000"/>
<rect x="247.34" y="317.90" width="4.32" height="3.80" fill="#000"/>
<line x1="160.60" y1="225.20" x2="171.30" y2="225.20" stroke="#000" stroke-width="1.1"/>
<ellipse cx="165.50" cy="225.20" rx="2.10" ry="1.90" fill="#000"/>
<text x="177.9" y="227.6" font-size="8.0" font-weight="bold">Ag specific Treg</text>
<line x1="160.60" y1="236.75" x2="171.30" y2="236.75" stroke="#000" stroke-width="1.1"/>
<rect x="163.34" y="234.85" width="4.32" height="3.80" fill="#000"/>
<text x="177.9" y="239.2" font-size="8.0" font-weight="bold">Polyspecifc Treg</text>
<line x1="318.75" y1="218.90" x2="318.75" y2="320.90" stroke="#000" stroke-width="1.4"/>
<line x1="315.25" y1="219.60" x2="318.75" y2="219.60" stroke="#000" stroke-width="1.4"/>
<text x="314.85" y="222.34" font-size="7.6" text-anchor="end" font-weight="bold">150</text>
<line x1="315.25" y1="253.10" x2="318.75" y2="253.10" stroke="#000" stroke-width="1.4"/>
<text x="314.85" y="255.84" font-size="7.6" text-anchor="end" font-weight="bold">100</text>
<line x1="315.25" y1="286.40" x2="318.75" y2="286.40" stroke="#000" stroke-width="1.4"/>
<text x="314.85" y="289.14" font-size="7.6" text-anchor="end" font-weight="bold">50</text>
<line x1="315.25" y1="320.20" x2="318.75" y2="320.20" stroke="#000" stroke-width="1.4"/>
<text x="314.85" y="322.94" font-size="7.6" text-anchor="end" font-weight="bold">0</text>
<line x1="318.75" y1="320.20" x2="436.60" y2="320.20" stroke="#000" stroke-width="1.4"/>
<line x1="331.50" y1="320.20" x2="331.50" y2="323.20" stroke="#000" stroke-width="1.4"/>
<text x="334.50" y="331.40" font-size="7.9" text-anchor="end" font-weight="bold" transform="rotate(-42 334.5 331.4)">0:1</text>
<line x1="354.50" y1="320.20" x2="354.50" y2="323.20" stroke="#000" stroke-width="1.4"/>
<text x="357.50" y="331.40" font-size="7.9" text-anchor="end" font-weight="bold" transform="rotate(-42 357.5 331.4)">1:20000</text>
<line x1="378.50" y1="320.20" x2="378.50" y2="323.20" stroke="#000" stroke-width="1.4"/>
<text x="381.50" y="331.40" font-size="7.9" text-anchor="end" font-weight="bold" transform="rotate(-42 381.5 331.4)">1:2000</text>
<line x1="401.50" y1="320.20" x2="401.50" y2="323.20" stroke="#000" stroke-width="1.4"/>
<text x="404.50" y="331.40" font-size="7.9" text-anchor="end" font-weight="bold" transform="rotate(-42 404.5 331.4)">1:200</text>
<line x1="425.50" y1="320.20" x2="425.50" y2="323.20" stroke="#000" stroke-width="1.4"/>
<text x="428.50" y="331.40" font-size="7.9" text-anchor="end" font-weight="bold" transform="rotate(-42 428.5 331.4)">1:20</text>
<line x1="436.40" y1="320.20" x2="507.70" y2="320.20" stroke="#000" stroke-width="1.4"/>
<line x1="447.50" y1="320.20" x2="447.50" y2="323.20" stroke="#000" stroke-width="1.4"/>
<text x="450.50" y="331.40" font-size="7.9" text-anchor="end" font-weight="bold" transform="rotate(-42 450.5 331.4)">1:0</text>
<line x1="471.50" y1="320.20" x2="471.50" y2="323.20" stroke="#000" stroke-width="1.4"/>
<text x="474.50" y="331.40" font-size="7.9" text-anchor="end" font-weight="bold" transform="rotate(-42 474.5 331.4)">Teff alone</text>
<line x1="495.50" y1="320.20" x2="495.50" y2="323.20" stroke="#000" stroke-width="1.4"/>
<text x="498.50" y="331.40" font-size="7.9" text-anchor="end" font-weight="bold" transform="rotate(-42 498.5 331.4)">Treg alone</text>
<text x="297.00" y="268.90" font-size="8.4" text-anchor="middle" font-weight="bold" transform="rotate(-90 297.0 268.9)">% Proliferation</text>
<text x="367.50" y="360.50" font-size="9.1" text-anchor="middle" font-weight="bold">Treg : Effectors</text>
<text x="273.00" y="203.10" font-size="13" text-anchor="start" font-weight="bold">D</text>
<polyline points="331.50,252.60 354.50,258.80 378.50,281.70 401.50,306.20 425.50,317.70" fill="none" stroke="#000" stroke-width="1.1"/>
<line x1="331.50" y1="249.50" x2="331.50" y2="256.50" stroke="#000" stroke-width="1.15"/>
<line x1="329.00" y1="249.50" x2="334.00" y2="249.50" stroke="#000" stroke-width="1.15"/>
<line x1="329.00" y1="256.50" x2="334.00" y2="256.50" stroke="#000" stroke-width="1.15"/>
<line x1="354.50" y1="255.50" x2="354.50" y2="262.50" stroke="#000" stroke-width="1.15"/>
<line x1="352.00" y1="255.50" x2="357.00" y2="255.50" stroke="#000" stroke-width="1.15"/>
<line x1="352.00" y1="262.50" x2="357.00" y2="262.50" stroke="#000" stroke-width="1.15"/>
<ellipse cx="331.50" cy="252.60" rx="2.10" ry="1.90" fill="#000"/>
<ellipse cx="354.50" cy="258.80" rx="2.10" ry="1.90" fill="#000"/>
<ellipse cx="378.50" cy="281.70" rx="2.10" ry="1.90" fill="#000"/>
<ellipse cx="401.50" cy="306.20" rx="2.10" ry="1.90" fill="#000"/>
<ellipse cx="425.50" cy="317.70" rx="2.10" ry="1.90" fill="#000"/>
<ellipse cx="447.50" cy="319.30" rx="2.10" ry="1.90" fill="#000"/>
<ellipse cx="471.50" cy="319.30" rx="2.10" ry="1.90" fill="#000"/>
<ellipse cx="495.50" cy="319.30" rx="2.10" ry="1.90" fill="#000"/>
<polyline points="331.50,252.60 354.50,257.40 378.50,264.90 401.50,265.80 425.50,279.70" fill="none" stroke="#000" stroke-width="1.1"/>
<line x1="401.50" y1="261.50" x2="401.50" y2="270.50" stroke="#000" stroke-width="1.15"/>
<line x1="399.00" y1="261.50" x2="404.00" y2="261.50" stroke="#000" stroke-width="1.15"/>
<line x1="399.00" y1="270.50" x2="404.00" y2="270.50" stroke="#000" stroke-width="1.15"/>
<rect x="329.34" y="250.70" width="4.32" height="3.80" fill="#000"/>
<rect x="352.34" y="255.50" width="4.32" height="3.80" fill="#000"/>
<rect x="376.34" y="263.00" width="4.32" height="3.80" fill="#000"/>
<rect x="399.34" y="263.90" width="4.32" height="3.80" fill="#000"/>
<rect x="423.34" y="277.80" width="4.32" height="3.80" fill="#000"/>
<rect x="445.34" y="317.40" width="4.32" height="3.80" fill="#000"/>
<rect x="469.34" y="317.40" width="4.32" height="3.80" fill="#000"/>
<rect x="493.34" y="317.40" width="4.32" height="3.80" fill="#000"/>
<line x1="396.80" y1="228.20" x2="408.20" y2="228.20" stroke="#000" stroke-width="1.1"/>
<ellipse cx="402.50" cy="228.20" rx="2.10" ry="1.90" fill="#000"/>
<text x="415.1" y="230.6" font-size="7.9" font-weight="bold">Original Stimulator</text>
<line x1="396.80" y1="242.90" x2="408.20" y2="242.90" stroke="#000" stroke-width="1.1"/>
<rect x="400.34" y="241.00" width="4.32" height="3.80" fill="#000"/>
<text x="415.1" y="246.0" font-size="7.9" font-weight="bold">3</text>
<text x="419.9" y="243.3" font-size="5.2" font-weight="bold">rd</text>
<text x="428.1" y="246.0" font-size="7.9" font-weight="bold">Party Stimulator</text>
<rect x="183.8" y="26.7" width="2.6" height="1.3" fill="#000"/>
<rect x="463.2" y="26.6" width="2.0" height="1.1" fill="#000"/>
</svg>
</body></html>
